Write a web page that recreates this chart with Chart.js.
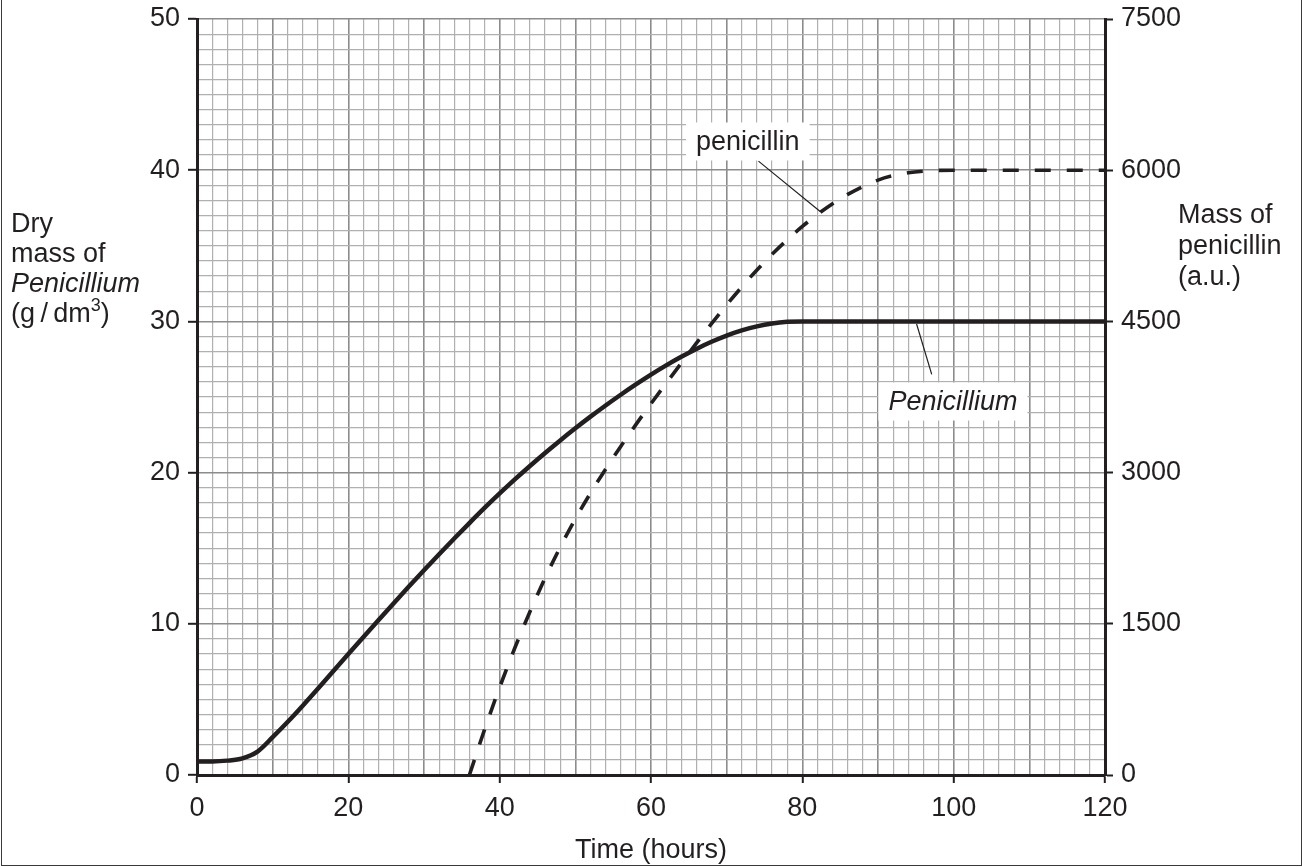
<!DOCTYPE html>
<html><head><meta charset="utf-8">
<script src="https://cdn.jsdelivr.net/npm/chart.js@4.4.1/dist/chart.umd.min.js"></script>
<style>
html,body{margin:0;padding:0;background:#fff;}
#wrap{position:relative;width:1303px;height:867px;overflow:hidden;}
#frame{position:absolute;left:1px;top:-3px;width:1301px;height:869px;border:1.5px solid #3a3a3a;box-sizing:border-box;pointer-events:none;}
canvas{position:absolute;left:0;top:0;}
</style></head><body>
<div id="wrap"><canvas id="c" width="1303" height="867"></canvas><div id="frame"></div></div>
<script>
// ---- data ----
const massHours = [0,2,4,6,8,10,12,14,16,18,20,22,24,26,28,30,32,34,36,38,40,42,44,46,48,50,52,54,56,58,60,62,64,66,68,70,72,74,76,78,80,90,100,110,120];
const dryMass   = [0.9,0.9,0.95,1.1,1.55,2.5,3.52,4.6,5.72,6.86,8.0,9.13,10.25,11.36,12.46,13.54,14.6,15.64,16.66,17.66,18.62,19.55,20.44,21.3,22.13,22.93,23.7,24.44,25.15,25.83,26.48,27.09,27.66,28.18,28.65,29.06,29.4,29.67,29.86,29.97,30.0,30.0,30.0,30.0,30.0];
const penHours  = [36,38,40,42,44,46,48,50,52,54,56,58,60,62,64,66,68,70,72,74,76,78,80,82,84,86,88,90,92,94,96,98,100,110,120];
const penicillin= [0,450,870,1260,1620,1954,2260,2540,2796,3034,3260,3476,3684,3886,4086,4284,4478,4664,4842,5010,5166,5310,5442,5562,5668,5760,5838,5902,5946,5974,5990,5998,6000,6000,6000];
const xTickLabels = [0,20,40,60,80,100,120];
const yLeftTickLabels = [0,10,20,30,40,50];
const yRightTickLabels = [0,1500,3000,4500,6000,7500];

const INK = '#231f20';
const FONT = '"Liberation Sans", Arial, sans-serif';
const MINOR = '#b0b0b0', MAJOR = '#8c8c8c';

const leftTitle = [
  [{t:'Dry'}],
  [{t:'mass of'}],
  [{t:'Penicillium', i:true}],
  [{t:'(g\u2009/\u2009dm'},{t:'3', s:true},{t:')'}]
];
const rightTitle = ['Mass of','penicillin','(a.u.)'];

function drawSegs(ctx, segs, x, y, size){
  let cx = x;
  ctx.textBaseline = 'alphabetic';
  ctx.textAlign = 'left';
  for (const s of segs){
    const fs = s.s ? Math.round(size*0.65) : size;
    ctx.font = (s.i ? 'italic ' : '') + fs + 'px ' + FONT;
    ctx.fillText(s.t, cx, s.s ? y - size*0.42 : y);
    cx += ctx.measureText(s.t).width;
  }
  return cx - x;
}

const titlesPlugin = {
  id:'titles',
  afterDraw(chart){
    const ctx = chart.ctx; const a = chart.chartArea;
    ctx.save(); ctx.fillStyle = INK;
    const y30 = chart.scales.y.getPixelForValue(30);
    leftTitle.forEach((segs, k) => drawSegs(ctx, segs, 11, y30 + 1 - (3-k)*30, 27));
    const yr = chart.scales.y.getPixelForValue(35);
    rightTitle.forEach((t,k)=> drawSegs(ctx, [{t}], a.right + 73, yr - 23 + k*31, 27));
    ctx.font = '27px ' + FONT; ctx.textAlign='center'; ctx.textBaseline='middle';
    ctx.fillText('Time (hours)', (a.left+a.right)/2, 851);
    ctx.restore();
  }
};

// annotation labels (in data coordinates)
const notes = [
  {text:'penicillin', italic:false, at:[72.8, 41.9], from:[74.2, 40.6], to:[82.4, 37.25]},
  {text:'Penicillium', italic:true, at:[99.9, 24.7], from:[97.1, 26.5], to:[95.1, 29.83]}
];
const notesPlugin = {
  id:'notes',
  afterDatasetsDraw(chart){
    const ctx = chart.ctx, X = chart.scales.x, Y = chart.scales.y;
    ctx.save();
    for (const n of notes){
      ctx.strokeStyle = INK; ctx.lineWidth = 1.2;
      ctx.beginPath();
      ctx.moveTo(X.getPixelForValue(n.from[0]), Y.getPixelForValue(n.from[1]));
      ctx.lineTo(X.getPixelForValue(n.to[0]), Y.getPixelForValue(n.to[1]));
      ctx.stroke();
      ctx.font = (n.italic?'italic ':'') + '27px ' + FONT;
      const w = ctx.measureText(n.text).width;
      const cx = X.getPixelForValue(n.at[0]), cy = Y.getPixelForValue(n.at[1]);
      ctx.fillStyle = '#fff';
      ctx.fillRect(cx - w/2 - 10, cy - 19, w + 20, 38);
      ctx.fillStyle = INK; ctx.textAlign='center'; ctx.textBaseline='middle';
      ctx.fillText(n.text, cx, cy+1);
    }
    ctx.restore();
  }
};

function gridColor(step){ return c => (c.tick && Math.round(c.tick.value) % step === 0) ? MAJOR : MINOR; }
function gridWidth(step){ return c => (c.tick && Math.round(c.tick.value) % step === 0) ? 1.6 : 1.2; }
function tickCol(list){ return c => (c.tick && list.includes(Math.round(c.tick.value))) ? INK : 'rgba(0,0,0,0)'; }

new Chart(document.getElementById('c'), {
  type:'line',
  data:{
    datasets:[
      {label:'Penicillium', data: massHours.map((h,i)=>({x:h,y:dryMass[i]})), yAxisID:'y',
       borderColor:INK, borderWidth:4.5, pointRadius:0, cubicInterpolationMode:'monotone', fill:false},
      {label:'penicillin', data: penHours.map((h,i)=>({x:h,y:penicillin[i]})), yAxisID:'y2',
       borderColor:INK, borderWidth:3.6, borderDash:[16,16], pointRadius:0, cubicInterpolationMode:'monotone', fill:false}
    ]
  },
  options:{
    responsive:false, animation:false, devicePixelRatio:1,
    layout:{padding:{top:19,right:0,left:0,bottom:0}},
    plugins:{legend:{display:false}, tooltip:{enabled:false}},
    scales:{
      x:{type:'linear', min:0, max:120,
        ticks:{stepSize:2, autoSkip:false, maxRotation:0, maxTicksLimit:1000, padding:9, color:INK, font:{size:27, family:FONT},
          callback:v => xTickLabels.includes(Math.round(v)) ? String(Math.round(v)) : ''},
        grid:{color:gridColor(10), lineWidth:gridWidth(10), tickLength:8, tickWidth:2, tickColor:tickCol(xTickLabels)},
        border:{color:INK, width:3},
        afterFit(s){ s.height = 92; s.paddingLeft = 0; s.paddingRight = 0; }
      },
      y:{type:'linear', position:'left', min:0, max:50,
        ticks:{stepSize:1, autoSkip:false, maxTicksLimit:1000, padding:8, color:INK, font:{size:27, family:FONT},
          callback:v => yLeftTickLabels.includes(Math.round(v)) ? String(Math.round(v)) : ''},
        grid:{color:gridColor(10), lineWidth:gridWidth(10), tickLength:9, tickWidth:2, tickColor:tickCol(yLeftTickLabels)},
        border:{color:INK, width:3},
        afterFit(s){ s.width = 197; s.paddingTop = 0; s.paddingBottom = 0; }
      },
      y2:{type:'linear', position:'right', min:0, max:7500,
        ticks:{stepSize:1500, autoSkip:false, padding:8, color:INK, font:{size:27, family:FONT},
          callback:v => yRightTickLabels.includes(Math.round(v)) ? String(Math.round(v)) : ''},
        grid:{drawOnChartArea:false, tickLength:8, tickWidth:2, tickColor:INK},
        border:{color:INK, width:3},
        afterFit(s){ s.width = 198; s.paddingTop = 0; s.paddingBottom = 0; }
      }
    }
  },
  plugins:[titlesPlugin, notesPlugin]
});
</script>
</body></html>
